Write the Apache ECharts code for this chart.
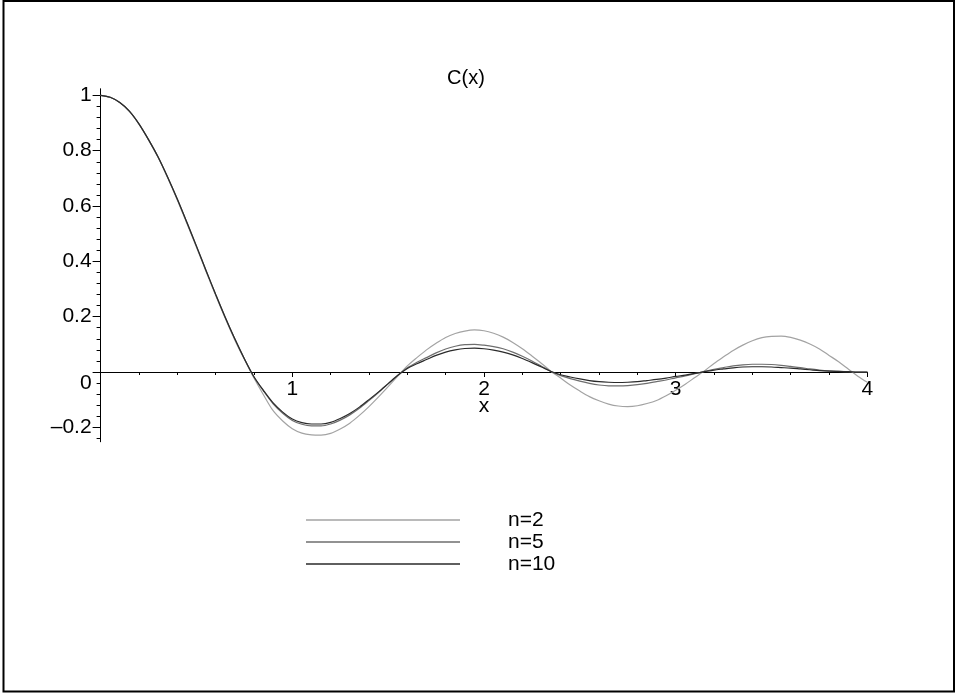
<!DOCTYPE html>
<html>
<head>
<meta charset="utf-8">
<script src="https://cdn.jsdelivr.net/npm/echarts@6/dist/echarts.min.js"></script>
<style>html,body{margin:0;padding:0;background:#fff}#c{width:957px;height:695px}</style>
</head>
<body>
<div id="c"></div>
<script>
var xs = [0,0.05,0.1,0.15,0.2,0.25,0.3,0.35,0.4,0.45,0.5,0.55,0.6,0.65,0.7,0.75,0.8,0.85,0.9,0.95,
          1.0,1.05,1.1,1.15,1.2,1.25,1.3,1.35,1.4,1.45,1.5,1.55,1.6,1.65,1.7,1.75,1.8,1.85,1.9,1.95,
          2.0,2.05,2.1,2.15,2.2,2.25,2.3,2.35,2.4,2.45,2.5,2.55,2.6,2.65,2.7,2.75,2.8,2.85,2.9,2.95,
          3.0,3.05,3.1,3.15,3.2,3.25,3.3,3.35,3.4,3.45,3.5,3.55,3.6,3.65,3.7,3.75,3.8,3.85,3.9,3.95,4.0];
var n2 = [1,0.993,0.974,0.942,0.896,0.839,0.775,0.701,0.622,0.537,0.451,0.363,0.277,0.194,0.116,0.045,-0.022,-0.083,-0.140,-0.177,
          -0.205,-0.221,-0.227,-0.228,-0.222,-0.206,-0.185,-0.157,-0.125,-0.090,-0.053,-0.015,0.022,0.052,0.080,0.104,0.125,0.139,0.148,0.152,
          0.149,0.140,0.126,0.107,0.084,0.058,0.031,0.002,-0.022,-0.047,-0.069,-0.089,-0.104,-0.116,-0.123,-0.125,-0.122,-0.114,-0.103,-0.086,
          -0.066,-0.044,-0.020,0.004,0.031,0.055,0.078,0.097,0.113,0.124,0.129,0.130,0.125,0.115,0.101,0.083,0.060,0.037,0.011,-0.015,-0.037];
var n5 = [1,0.993,0.974,0.943,0.897,0.840,0.777,0.704,0.625,0.541,0.455,0.367,0.281,0.198,0.120,0.048,-0.018,-0.069,-0.115,-0.149,
          -0.175,-0.189,-0.195,-0.195,-0.188,-0.174,-0.155,-0.131,-0.103,-0.074,-0.043,-0.013,0.015,0.035,0.052,0.069,0.083,0.093,0.099,0.100,
          0.097,0.092,0.084,0.072,0.057,0.040,0.021,0.002,-0.013,-0.024,-0.033,-0.041,-0.047,-0.050,-0.050,-0.049,-0.046,-0.041,-0.035,-0.029,
          -0.021,-0.014,-0.006,0.002,0.010,0.016,0.022,0.026,0.028,0.028,0.027,0.024,0.020,0.016,0.011,0.007,0.004,0.002,0.001,0.000,0.000];
var n10 = [1,0.993,0.974,0.943,0.897,0.840,0.777,0.704,0.625,0.541,0.455,0.367,0.281,0.198,0.120,0.048,-0.017,-0.067,-0.112,-0.145,
          -0.170,-0.183,-0.188,-0.188,-0.182,-0.168,-0.150,-0.127,-0.100,-0.072,-0.042,-0.012,0.013,0.030,0.045,0.060,0.072,0.080,0.085,0.086,
          0.084,0.079,0.072,0.062,0.049,0.034,0.018,0.002,-0.010,-0.018,-0.025,-0.031,-0.035,-0.037,-0.038,-0.037,-0.035,-0.031,-0.027,-0.022,
          -0.016,-0.011,-0.005,0.001,0.007,0.011,0.015,0.018,0.019,0.019,0.018,0.016,0.014,0.011,0.008,0.005,0.003,0.002,0.001,0.000,0.000];
var seriesNames = ['n=2','n=5','n=10'];
var yMajorTicks = [-0.2,0,0.2,0.4,0.6,0.8,1];
var yMinorTicks = [-0.24,-0.2,-0.16,-0.12,-0.08,-0.04,0,0.04,0.08,0.12,0.16,0.2,0.24,0.28,0.32,0.36,0.4,0.44,0.48,0.52,0.56,0.6,0.64,0.68,0.72,0.76,0.8,0.84,0.88,0.92,0.96,1];
var xTickLabels = [1,2,3,4];
var titleText = 'C(x)';
var xName = 'x';

var FONT = "'Liberation Sans', Arial, Helvetica, sans-serif";
function pairs(ya){ return xs.map(function(x,i){ return [x, ya[i]]; }); }
var colors = ['#a3a3a3','#6e6e6e','#2a2a2a'];
var allY = [n2, n5, n10];

var chart = echarts.init(document.getElementById('c'), null, {renderer:'canvas'});
var yMin = -0.252, yMax = 1.023;
var axisLineStyle = {color:'#000', width:1};
chart.setOption({
  animation:false,
  backgroundColor:'#fff',
  grid:{left:100.6, right:89.6, top:89, bottom:253.3, containLabel:false},
  graphic:[
    {type:'rect', shape:{x:3.5, y:1, width:950.5, height:690.5}, style:{fill:'none', stroke:'#000', lineWidth:2}, silent:true},
    {type:'text', x:466, y:78, style:{text:titleText, font:'20px ' + FONT, fill:'#000', textAlign:'center', textVerticalAlign:'middle'}}
  ],
  legend:{
    orient:'vertical', left:301, top:504, padding:5,
    itemWidth:154, itemHeight:1.3, itemGap:0, icon:'rect',
    textStyle:{fontFamily:FONT, fontSize:21, color:'#000', lineHeight:22, padding:[0,0,0,43]},
    data:seriesNames
  },
  xAxis:{
    type:'value', min:0, max:4, interval:1, offset:-69.7,
    name:xName, nameLocation:'middle', nameGap:24, nameMoveOverlap:false,
    nameTextStyle:{fontFamily:FONT, fontSize:21, color:'#000'},
    axisLine:{show:true, onZero:false, lineStyle:axisLineStyle},
    axisTick:{show:true, length:5, lineStyle:axisLineStyle},
    minorTick:{show:true, splitNumber:5, length:3, lineStyle:axisLineStyle},
    splitLine:{show:false},
    axisLabel:{margin:7, fontFamily:FONT, fontSize:21, color:'#000', customValues:xTickLabels,
      formatter:function(v){ return v === 0 ? '' : String(v); }}
  },
  yAxis:[
    {
      type:'value', min:yMin, max:yMax, position:'left',
      axisLine:{show:true, onZero:false, lineStyle:axisLineStyle},
      axisTick:{show:true, length:8, customValues:yMajorTicks, lineStyle:axisLineStyle},
      splitLine:{show:false},
      axisLabel:{margin:9, fontFamily:FONT, fontSize:21, color:'#000', customValues:yMajorTicks,
        formatter:function(v){
          var r = Math.round(v*10)/10;
          if (r === 0) return '{z|0}';
          return String(r).replace('-', '\u2013');
        },
        rich:{z:{fontFamily:FONT, fontSize:21, color:'#000', padding:[22,0,0,0]}}
      }
    },
    {
      type:'value', min:yMin, max:yMax, position:'left', offset:0,
      axisLine:{show:true, onZero:false, lineStyle:axisLineStyle},
      axisTick:{show:true, length:4, customValues:yMinorTicks, lineStyle:axisLineStyle},
      splitLine:{show:false},
      axisLabel:{show:false}
    }
  ],
  series: seriesNames.map(function(name, i){
    return {
      name:name, type:'line', xAxisIndex:0, yAxisIndex:0,
      data:pairs(allY[i]), smooth:0.3, showSymbol:false, symbol:'none',
      color:colors[i],
      lineStyle:{color:colors[i], width:1.2},
      itemStyle:{color:colors[i]},
      z: 2 + i
    };
  })
});
</script>
</body>
</html>
